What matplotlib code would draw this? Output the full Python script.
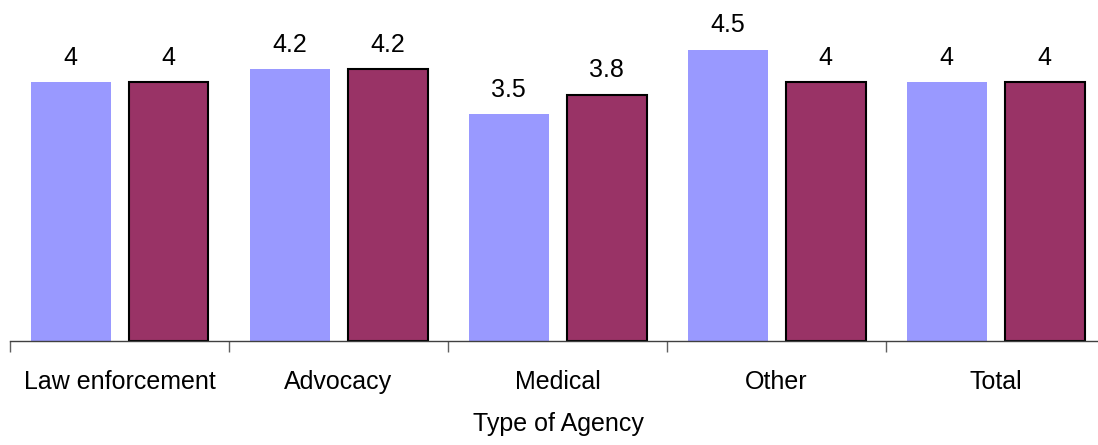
import matplotlib
matplotlib.use("Agg")
import matplotlib.pyplot as plt
import numpy as np

categories = ["Law enforcement", "Advocacy", "Medical", "Other", "Total"]
series_a = [4, 4.2, 3.5, 4.5, 4]
series_b = [4, 4.2, 3.8, 4, 4]
labels_a = ["4", "4.2", "3.5", "4.5", "4"]
labels_b = ["4", "4.2", "3.8", "4", "4"]

plt.rcParams['font.family'] = ['Liberation Sans', 'DejaVu Sans']

W, H = 1098, 445
fig = plt.figure(figsize=(W / 100, H / 100), dpi=100)
ax_left = 10 / W
ax_w = 1095 / W
ax_bottom = (H - 341) / H
ax_h = 5 * 64.75 / H
ax = fig.add_axes([ax_left, ax_bottom, ax_w, ax_h])

x = np.arange(len(categories))
bw = 80 / 219
off = 49 / 219
ax.bar(x - off, series_a, width=bw, color="#9999FF", edgecolor="none", zorder=2)
ax.bar(x + off, series_b, width=bw, color="#993366", edgecolor="black", linewidth=1.5, zorder=2)

for xi, v, t in zip(x - off, series_a, labels_a):
    ax.text(xi, v + 0.27, t, ha="center", va="baseline", fontsize=18, clip_on=False)
for xi, v, t in zip(x + off, series_b, labels_b):
    ax.text(xi, v + 0.27, t, ha="center", va="baseline", fontsize=18, clip_on=False)

ax.set_xlim(-0.5, len(categories) - 0.5)
ax.set_ylim(0, 5)
for s in ["top", "right", "left"]:
    ax.spines[s].set_visible(False)
ax.spines["bottom"].set_color("#404040")
ax.spines["bottom"].set_linewidth(1.0)
ax.set_yticks([])

ax.set_xticks(np.arange(len(categories) + 1) - 0.5)
ax.set_xticklabels([])
ax.tick_params(axis="x", which="major", direction="out", length=8, width=1, color="#606060")
ax.set_xticks(x, minor=True)
ax.set_xticklabels(categories, minor=True, fontsize=18)
ax.tick_params(axis="x", which="minor", length=0, pad=21)

fig.text((10 + 548) / W, (H - 424) / H, "Type of Agency", ha="center", va="center", fontsize=18)

fig.savefig("out.png", dpi=100)
